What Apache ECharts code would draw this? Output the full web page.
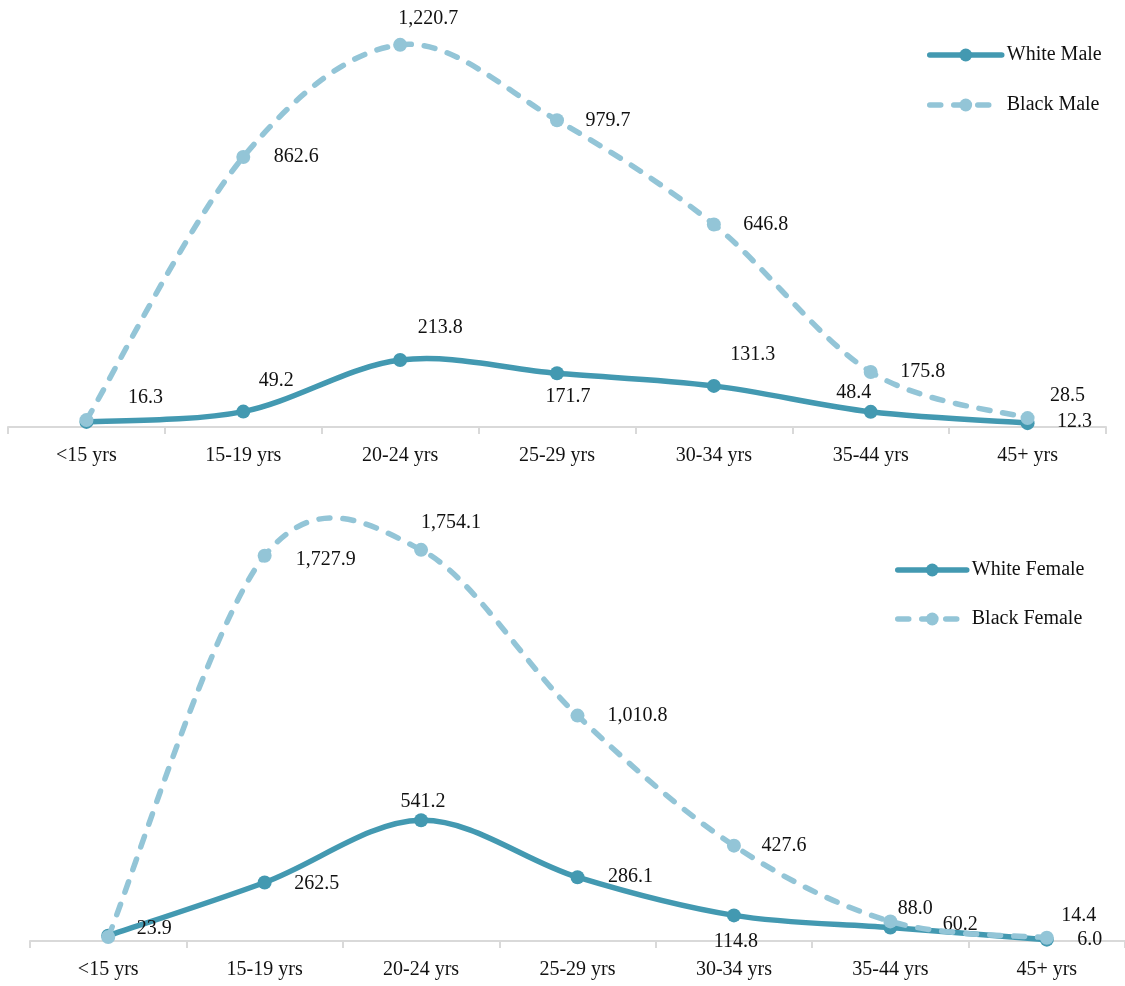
<!DOCTYPE html>
<html>
<head>
<meta charset="utf-8">
<script src="https://cdn.jsdelivr.net/npm/echarts@6/dist/echarts.min.js"></script>
<style>
html,body{margin:0;padding:0;background:#fff;}
#chart{width:1125px;height:986px;}
</style>
</head>
<body>
<div id="chart"></div>
<script>
// ---- data ----
const categories = ['<15 yrs', '15-19 yrs', '20-24 yrs', '25-29 yrs', '30-34 yrs', '35-44 yrs', '45+ yrs'];
const whiteMale   = [16.3, 49.2, 213.8, 171.7, 131.3, 48.4, 12.3];
const blackMale   = [22, 862.6, 1220.7, 979.7, 646.8, 175.8, 28.5];
const whiteFemale = [23.9, 262.5, 541.2, 286.1, 114.8, 60.2, 6.0];
const blackFemale = [18, 1727.9, 1754.1, 1010.8, 427.6, 88.0, 14.4];

// label offsets (pixels from point), null = no label
const wmOff = [[59,-24],[33,-31],[40,-32],[11,24],[39,-31],[-17,-19],[47,-1]];
const bmOff = [null,[53,0],[28,-26],[51,0],[52,0],[52,0],[40,-22]];
const wfOff = [[46,-7],[52,1],[2,-19],[53,0],[2,26],[70,-3],[43,0]];
const bfOff = [null,[61,4],[30,-27],[60,0],[50,0],[25,-13],[32,-22]];

const FONT = 'Liberation Serif';
const WHITE_C = '#4399b1';
const BLACK_C = '#93c5d7';
const LINE_W = 5.5;
const DASH = [11, 13];

function fmt(v){ return v.toLocaleString('en-US',{minimumFractionDigits:1, maximumFractionDigits:1}); }

function buildData(vals, offs){
  return vals.map((v,i)=>{
    const o = offs[i];
    if(!o) return {value:v, label:{show:false}};
    return {value:v, label:{show:true, position:'inside', offset:o}};
  });
}

// markers + labels (line itself hidden; curve drawn by custom series)
function mkPoints(name, vals, offs, color, idx, z){
  return {
    name, type:'line', xAxisIndex:idx, yAxisIndex:idx, z,
    data: buildData(vals, offs),
    symbol:'circle', symbolSize:14,
    itemStyle:{color},
    lineStyle:{color, width:LINE_W, opacity:0},
    label:{
      show:true, fontFamily:FONT, fontSize:20, color:'#111',
      formatter: p => fmt(p.value), align:'center', verticalAlign:'middle'
    },
    emphasis:{disabled:true},
    animation:false
  };
}

// smooth (Catmull-Rom style) curve through the data, positioned by the axes
function mkCurve(name, vals, color, dashed, idx, z){
  return {
    name: name + ' curve', type:'custom', xAxisIndex:idx, yAxisIndex:idx, z,
    data: vals.map((v,i)=>[i,v]),
    silent:true, animation:false,
    renderItem: function(params, api){
      if(params.dataIndex !== 0) return null;
      const p = vals.map((v,i)=>api.coord([i, v]));
      const n = p.length;
      let d = 'M' + p[0][0] + ' ' + p[0][1];
      for(let i=0;i<n-1;i++){
        const p0 = p[Math.max(i-1,0)], p1 = p[i], p2 = p[i+1], p3 = p[Math.min(i+2,n-1)];
        const c1x = p1[0] + (p2[0]-p0[0])/6, c1y = p1[1] + (p2[1]-p0[1])/6;
        const c2x = p2[0] - (p3[0]-p1[0])/6, c2y = p2[1] - (p3[1]-p1[1])/6;
        d += ' C' + c1x + ' ' + c1y + ' ' + c2x + ' ' + c2y + ' ' + p2[0] + ' ' + p2[1];
      }
      return {
        type:'path',
        shape:{pathData:d},
        style:{fill:null, stroke:color, lineWidth:LINE_W, lineCap:'round', lineJoin:'round',
               lineDash: dashed ? DASH : null}
      };
    }
  };
}

const xAxisCommon = {
  type:'category', data:categories, boundaryGap:true,
  axisLine:{lineStyle:{color:'#d9d9d9', width:2}},
  axisTick:{show:true, length:7, lineStyle:{color:'#d9d9d9', width:2}},
  axisLabel:{fontFamily:FONT, fontSize:20, color:'#111', margin:19}
};
const yAxisCommon = {
  type:'value', min:0, show:false, splitLine:{show:false}
};

function legendItem(name, color, dashed){
  return {name,
    itemStyle:{color},
    lineStyle:{color, width:LINE_W, type: dashed ? DASH : 'solid', cap:'round', opacity:1}};
}

const chart = echarts.init(document.getElementById('chart'), null, {renderer:'canvas'});
chart.setOption({
  backgroundColor:'#fff',
  animation:false,
  grid:[
    {left:8, right:19, top:20, height:407},
    {left:30, right:0, top:495, height:446}
  ],
  xAxis:[
    Object.assign({gridIndex:0}, xAxisCommon),
    Object.assign({gridIndex:1}, xAxisCommon)
  ],
  yAxis:[
    Object.assign({gridIndex:0, max:1300}, yAxisCommon),
    Object.assign({gridIndex:1, max:2000}, yAxisCommon)
  ],
  legend:[
    {data:[legendItem('White Male', WHITE_C, false), legendItem('Black Male', BLACK_C, true)],
     orient:'vertical', left:922, top:40,
     itemWidth:72, itemHeight:16, itemGap:30,
     textStyle:{fontFamily:FONT, fontSize:20, color:'#111'}},
    {data:[legendItem('White Female', WHITE_C, false), legendItem('Black Female', BLACK_C, true)],
     orient:'vertical', left:890, top:555,
     itemWidth:69, itemHeight:16, itemGap:29,
     textStyle:{fontFamily:FONT, fontSize:20, color:'#111'}}
  ],
  series:[
    mkPoints('White Male', whiteMale, wmOff, WHITE_C, 0, 3),
    mkPoints('Black Male', blackMale, bmOff, BLACK_C, 0, 5),
    mkPoints('White Female', whiteFemale, wfOff, WHITE_C, 1, 3),
    mkPoints('Black Female', blackFemale, bfOff, BLACK_C, 1, 5),
    mkCurve('White Male', whiteMale, WHITE_C, false, 0, 2),
    mkCurve('Black Male', blackMale, BLACK_C, true, 0, 4),
    mkCurve('White Female', whiteFemale, WHITE_C, false, 1, 2),
    mkCurve('Black Female', blackFemale, BLACK_C, true, 1, 4)
  ]
});
</script>
</body>
</html>
